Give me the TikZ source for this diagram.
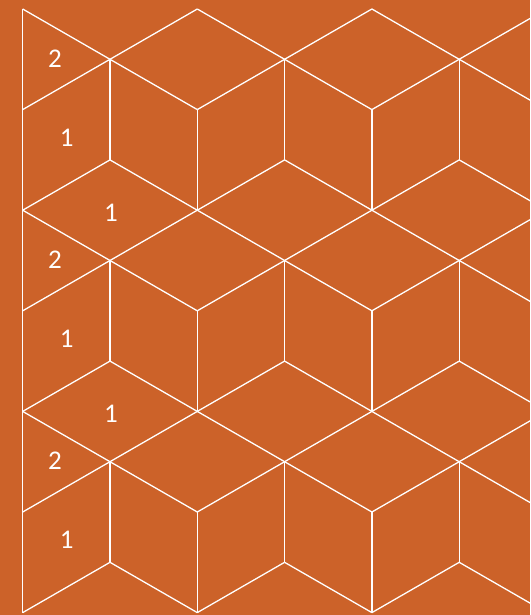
\documentclass[tikz,border=0pt]{standalone}
\usepackage{fontspec}
\setmainfont{Carlito}
\definecolor{bg}{HTML}{CC6229}
\begin{document}
\begin{tikzpicture}[x=1pt,y=-1pt,
  edge/.style={white, line width=1.3pt, line join=round},
  lbl/.style={text=white, font=\fontsize{27}{27}\selectfont, inner sep=0pt}]
\fill[bg] (0,0) rectangle (530,615);
\useasboundingbox (0,0) rectangle (530,615);
\begin{scope}
\clip (0,0) rectangle (530,615);
\foreach \m in {0,1,2}{
  \begin{scope}[shift={(0,201.2*\m)}]
    \foreach \k in {0,...,5}{
      \pgfmathsetmacro\xa{22.7+87.3*\k}
      \pgfmathsetmacro\xb{22.7+87.3*(\k+1)}
      \pgfmathsetmacro\pa{mod(\k,2)}
      \pgfmathsetmacro\pb{mod(\k+1,2)}
      \draw[edge] (\xa,{9+50.3*\pa}) -- (\xb,{9+50.3*\pb});
      \draw[edge] (\xa,{9+50.3*(2-\pa)}) -- (\xb,{9+50.3*(2-\pb)});
      \draw[edge] (\xa,{9+50.3*(4-\pa)}) -- (\xb,{9+50.3*(4-\pb)});
    }
    \foreach \k in {1,3,5}{
      \draw[edge] ({22.7+87.3*\k},59.3) -- ({22.7+87.3*\k},159.9);
    }
    \foreach \k in {2,4,6}{
      \draw[edge] ({22.7+87.3*\k},109.6) -- ({22.7+87.3*\k},210.2);
    }
    \node[lbl] (two\m) at (55,58.5) {2};
    \node[lbl] (one\m) at (66.7,137.5) {1};
  \end{scope}
}
\node[lbl] (mid0) at (111,212.8) {1};
\node[lbl] (mid1) at (111,414) {1};
\draw[edge] (22.7,9) -- (22.7,612.6);
\end{scope}
\end{tikzpicture}
\end{document}
